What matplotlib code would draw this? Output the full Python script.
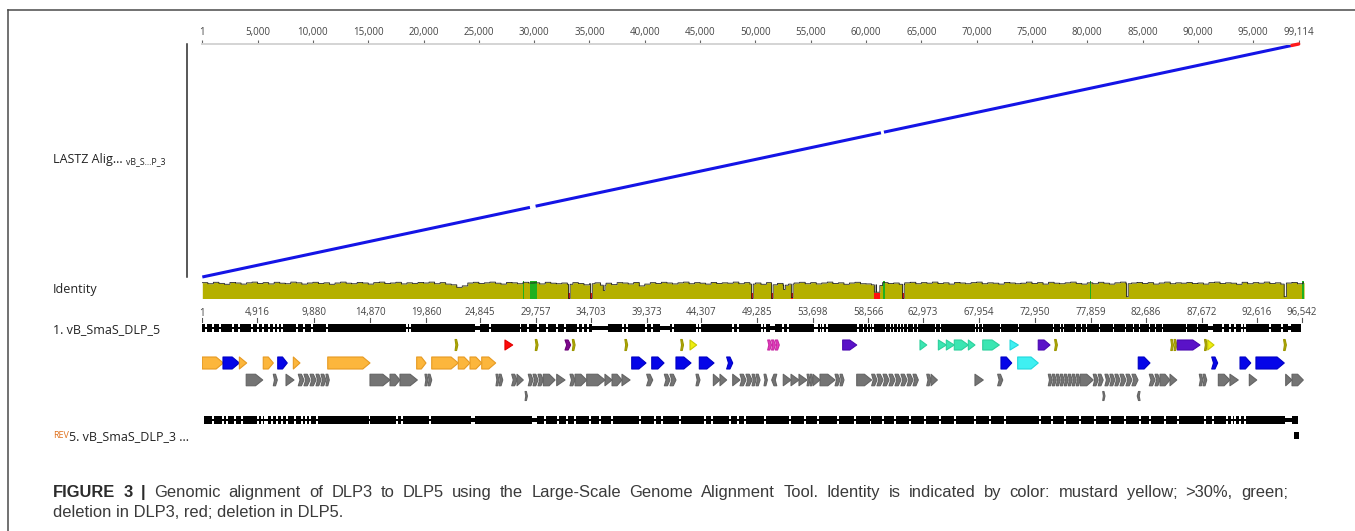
import numpy as np
import matplotlib
matplotlib.use("Agg")
import matplotlib.pyplot as plt
from matplotlib.patches import Polygon, Rectangle
from matplotlib.lines import Line2D

plt.rcParams['font.family'] = ['Open Sans', 'DejaVu Sans']

# ---------------- data ----------------
DLP5_LEN = 99114
ALN_LEN = 99600

top_ticks = [1, 5000, 10000, 15000, 20000, 25000, 30000, 35000, 40000, 45000,
             50000, 55000, 60000, 65000, 70000, 75000, 80000, 85000, 90000, 95000, 99114]

# alignment blocks: (dlp5 start, dlp5 end, dlp3 start, dlp3 end)
aln_blocks = [(1, 29620, 1, 29620), (30130, 61350, 30130, 61350), (61620, 98500, 61620, 98500)]
aln_rev_blocks = [(98500, 99114, 98500, 99114)]

# identity, 500 bp bins
identity_vals = [
    .88, .82, .90, .84, .79, .89, .86, .80, .87, .91, .83, .88, .81, .90, .85, .82, .91, .87, .80, .86,
    .90, .83, .87, .79, .86, .91, .85, .82, .89, .86, .80, .88, .91, .83, .86, .90, .81, .87, .84, .89,
    .86, .91, .82, .88, .80, .76, .62, .70, .86, .90, .83, .87, .91, .85, .80, .89, .87, .82, .90, .86,
    .87, .81, .90, .85, .82, .86, .79, .88, .83, .76, .82, .87, .74, .85, .77, .88, .86, .81, .89, .70,
    .80, .88, .83, .90, .86, .81, .87, .91, .82, .88, .85, .80, .89, .83, .87, .85, .91, .82, .88, .80,
    .86, .79, .88, .76, .84, .74, .80, .86, .90, .82, .88, .81, .86, .91, .83, .87, .79, .86, .90, .82,
    .81, .76, .72, .88, .83, .86, .79, .87, .90, .82, .88, .85, .91, .83, .87, .80, .89, .86, .82, .88,
    .91, .82, .87, .85, .80, .89, .86, .82, .85, .91, .83, .88, .80, .90, .85, .82, .87, .91, .84, .80,
    .87, .82, .90, .85, .80, .87, .91, .82, .86, .89, .83, .88, .80, .86, .91, .82, .87, .85, .89, .83,
    .86, .80, .88, .91, .83, .87, .85, .79, .90, .82, .88, .85, .91, .83, .87, .80, .86, .89, .82, .88,
]
# narrow dips: (centre, identity, red deletion mark)
identity_dips = [(33150, 0.0, True), (35140, 0.0, True), (36300, 0.45, False), (49700, 0.0, True),
                 (51500, 0.0, True), (52600, 0.5, False), (53300, 0.05, True), (60800, 0.35, True),
                 (61000, 0.35, True), (61150, 0.35, True), (63340, 0.0, True), (83600, 0.1, False),
                 (97880, 0.1, False)]
identity_green = [(28950, 29080), (29620, 30250), (61560, 61700), (80280, 80380), (99450, 99600)]

dlp5_tick_labels = ['1', '4,916', '9,880', '14,870', '19,860', '24,845', '29,757', '34,703', '39,373',
                    '44,307', '49,285', '53,698', '58,566', '62,973', '67,954', '72,950', '77,859',
                    '82,686', '87,672', '92,616', '96,542']
dlp5_tick_pos = [1, 4945, 10100, 15160, 20220, 25100, 30170, 35110, 40170, 45080, 50120, 55180,
                 60180, 65150, 70200, 75280, 80310, 85310, 90350, 95350, 99410]

dlp5_span = (1, 99360)
dlp5_gaps = [335, 970, 1600, 2780, 3320, 4490, 5040, 5490, 6030, 6480, 6840, 7200, 8560, 9190, 9910,
             11270, 18500, 18780, 26010, 28730, 29450, 30350, 31170, 32070, 32790, 33970, 34420, 34870,
             38030, 38390, 40110, 40650, 42550, 44720, 44990, 47980, 48430, 50600, 50870, 52500, 52950,
             55390, 55570, 55850, 56120, 56480, 59280, 59740, 60100, 60370, 60640, 61730, 62180, 62460,
             62820, 63090, 63360, 63730, 64270, 64630, 66260, 66710, 69870, 70150, 70510, 72140, 73770,
             76930, 77570, 77840, 78920, 79470, 79920, 81090, 82360, 83450, 84170, 84710, 85620, 86160,
             86790, 88960, 89960, 92270, 92900, 93350, 93980, 94260, 96520, 97610]
dlp5_narrow = [(24650, 25100), (35230, 36680), (41370, 42280), (51320, 51780), (90910, 91360),
               (98150, 98420)]

dlp3_span = (150, 99050)
dlp3_gaps = [970, 1870, 2230, 2960, 3590, 5040, 5400, 5670, 5850, 6300, 6750, 7200, 7650, 8380, 9010,
             9370, 9730, 10360, 15150, 17600, 18050, 20580, 30980, 32160, 32970, 33690, 35050, 35950,
             37040, 39570, 40920, 41560, 43190, 45450, 46080, 47710, 48430, 49060, 50870, 53130, 54490,
             55660, 57470, 59010, 60370, 61540, 62620, 63980, 65330, 66690, 68050, 69850, 71210, 72560,
             75730, 76810, 77990, 79340, 80700, 82050, 83410, 84770, 85670, 87030, 88200, 90650, 91370,
             92640, 93090, 93360, 93810, 94260]
dlp3_narrow = [(24300, 24650), (29800, 30260), (97880, 98510)]
dlp3_block = (98700, 99100)

# annotated features: (start, end, strand, colour)
row1_features = [
    (22850, 23100, 1, 'olive'), (27360, 28060, 1, 'red'), (30100, 30350, 1, 'olive'),
    (32790, 33300, 1, 'purple'), (33450, 33700, 1, 'olive'), (38200, 38450, 1, 'olive'),
    (43250, 43500, 1, 'olive'), (44090, 44690, 1, 'yellow'), (51110, 51460, 1, 'magenta'),
    (51460, 51810, 1, 'magenta'), (51810, 52160, 1, 'magenta'), (57890, 59160, 1, 'violet'),
    (64880, 65490, 1, 'teal'), (66540, 67260, 1, 'teal'), (67260, 67980, 1, 'teal'),
    (67980, 69250, 1, 'teal'), (69250, 69850, 1, 'teal'), (70550, 72050, 1, 'teal'),
    (73020, 73770, 1, 'cyan'), (75570, 76630, 1, 'violet'), (77050, 77300, 1, 'olive'),
    (87550, 87800, 1, 'olive'), (87850, 88100, 1, 'olive'), (88140, 90190, 1, 'violet'),
    (90600, 90850, 1, 'olive'), (90890, 91460, 1, 'yellow'), (97750, 98000, 1, 'olive'),
]
row2_features = [
    (1, 1900, 1, 'orange'), (1870, 3350, 1, 'blue'), (3350, 4010, 1, 'orange'),
    (5510, 6420, 1, 'orange'), (6820, 7680, 1, 'blue'), (8230, 8830, 1, 'orange'),
    (11340, 15160, 1, 'orange'), (19380, 20220, 1, 'orange'), (20740, 23140, 1, 'orange'),
    (23140, 24200, 1, 'orange'), (24200, 25260, 1, 'orange'), (25260, 26520, 1, 'orange'),
    (38820, 40110, 1, 'blue'), (40630, 41740, 1, 'blue'), (42820, 44180, 1, 'blue'),
    (44930, 46260, 1, 'blue'), (47400, 47950, 1, 'blue'), (72200, 73170, 1, 'blue'),
    (73710, 75570, 1, 'cyan'), (84610, 85670, 1, 'blue'), (91250, 91790, 1, 'blue'),
    (93810, 94780, 1, 'blue'), (95250, 97810, 1, 'blue'),
]
row3_features = [
    (3970, 5460, 1), (6420, 6780, 1), (7570, 8290, 1),
    (8680, 9190, 1), (9190, 9740, 1), (9740, 10280, 1), (10280, 10730, 1), (10730, 11180, 1),
    (11180, 11480, 1), (15160, 16970, 1), (16970, 17870, 1), (17870, 19440, 1),
    (20130, 20400, 1), (20400, 20740, 1), (26550, 26820, 1), (26820, 27160, 1),
    (27970, 28450, 1), (28450, 29020, 1), (29470, 29900, 1), (29900, 30350, 1), (30350, 30830, 1),
    (30830, 31890, 1), (32040, 32790, 1), (33240, 33700, 1), (33700, 34750, 1), (34750, 36400, 1),
    (36400, 37040, 1), (37040, 37940, 1), (37940, 38670, 1), (40170, 40720, 1),
    (41770, 42280, 1), (42280, 42820, 1), (44630, 44990, 1), (46200, 46800, 1), (46800, 47400, 1),
    (47950, 48610, 1), (48610, 49150, 1), (49150, 49700, 1), (49700, 50060, 1), (50060, 50420, 1),
    (50780, 51080, 1), (51470, 51930, -1), (52520, 53220, 1), (53220, 53940, 1), (53940, 54670, 1),
    (54670, 54940, 1), (54940, 55210, 1), (55210, 55840, 1), (55840, 57200, 1), (57200, 57650, 1),
    (57650, 58010, 1), (59160, 60510, 1), (60510, 60990, 1), (60990, 61540, 1), (61540, 62080, 1),
    (62080, 62620, 1), (62620, 63160, 1), (63160, 63710, 1), (63710, 64250, 1), (64250, 64730, 1),
    (65490, 65880, 1), (65880, 66450, 1), (69850, 70600, 1), (71900, 72360, 1),
    (76480, 76840, 1), (76840, 77200, 1), (77200, 77560, 1), (77560, 77920, 1), (77920, 78280, 1),
    (78280, 78640, 1), (78640, 79000, 1), (79000, 79370, 1), (79370, 80540, 1), (80540, 80990, 1),
    (80990, 81440, 1), (81600, 82050, 1), (82050, 82500, 1), (82500, 82960, 1), (82960, 83500, 1),
    (83500, 84040, 1), (84040, 84590, 1), (85610, 86130, 1), (86130, 86580, 1), (86580, 87480, 1),
    (87480, 88090, 1), (90130, 90460, 1), (90460, 90800, 1), (91850, 92900, 1), (92900, 93650, 1),
    (94650, 95320, 1), (97940, 98510, 1), (98510, 99530, 1),
]
row4_features = [(29180, 29390, 1), (81400, 81600, 1), (84520, 84770, -1)]

palette = {
    'olive': ('#b2ac00', '#9c9600'), 'red': ('#ff0a0a', '#e00000'), 'purple': ('#7d0a8c', '#6a0078'),
    'yellow': ('#eeee10', '#c8c800'), 'magenta': ('#e23cbc', '#c82aa4'), 'violet': ('#5a12c8', '#4a08b0'),
    'teal': ('#3be6b2', '#2cd09c'), 'cyan': ('#3ff0f2', '#22d8dc'), 'orange': ('#fcb63c', '#e69a22'),
    'blue': ('#0505e8', '#0000c4'), 'gray': ('#747474', '#646464'),
}

caption_line1 = [('FIGURE', 'bold'), ('3', 'bold'), ('|', 'bold')] + [
    (w, 'normal') for w in ('Genomic alignment of DLP3 to DLP5 using the Large-Scale Genome '
                            'Alignment Tool. Identity is indicated by color: mustard yellow; '
                            '>30%, green;').split()]
caption_line2 = 'deletion in DLP3, red; deletion in DLP5.'

# ---------------- layout ----------------
W, H = 1355, 531
BP_PER_PX = 90.4
X0 = 202.3


def px_box(x0, y0, x1, y1):
    return [x0 / W, 1 - y1 / H, (x1 - x0) / W, (y1 - y0) / H]


fig = plt.figure(figsize=(W / 100, H / 100), dpi=100)
fig.patch.set_facecolor('white')

# frame
fig.add_artist(Line2D([8 / W, 1], [1 - 10 / H, 1 - 10 / H], color='#4a4a4a', lw=1.1))
fig.add_artist(Line2D([8 / W, 8 / W], [0, 1 - 10 / H], color='#4a4a4a', lw=1.1))

# ---- dot plot ----
ax = fig.add_axes(px_box(X0, 44, X0 + DLP5_LEN / BP_PER_PX, 277))
ax.set_xlim(0, DLP5_LEN)
ax.set_ylim(0, DLP5_LEN)
for x0, x1, y0, y1 in aln_blocks:
    ax.plot([x0, x1], [y0, y1], color='#1414e6', lw=2.2, solid_capstyle='butt', clip_on=False)
for x0, x1, y0, y1 in aln_rev_blocks:
    ax.plot([x0, x1], [y0, y1], color='#ff1a1a', lw=2.4, solid_capstyle='round', clip_on=False,
            zorder=5)
for s in ['right', 'bottom']:
    ax.spines[s].set_visible(False)
ax.spines['top'].set_color('#d4d4d4')
ax.spines['top'].set_linewidth(1.4)
ax.spines['left'].set_position(('outward', 11))
ax.spines['left'].set_color('#2a2a2a')
ax.spines['left'].set_linewidth(1.1)
ax.xaxis.tick_top()
ax.set_xticks(top_ticks)
ax.set_xticklabels([f'{t:,}' for t in top_ticks], fontsize=7, color='#444444')
ax.tick_params(axis='x', length=3, width=0.8, color='#666666', pad=1.5)
ax.set_yticks([])
ax.patch.set_alpha(0)

# ---- identity ----
ax_id = fig.add_axes(px_box(X0, 280.5, X0 + ALN_LEN / BP_PER_PX, 298.5))
ax_id.set_xlim(0, ALN_LEN)
ax_id.set_ylim(0, 1)
step = 50
xs = np.arange(0, ALN_LEN + step, step)
prof = np.repeat(np.array(identity_vals), 500 // step)[:len(xs)]
for c, val, red in identity_dips:
    prof[(xs >= c - 80) & (xs <= c + 80)] = val
ax_id.fill_between(xs, prof, step='post', color='#b5b000', lw=0)
ax_id.step(xs, prof, where='post', color='#222222', lw=0.6)
for c, val, red in identity_dips:
    if red:
        ax_id.bar(c - 80, 0.3, 160, align='edge', color='#ff1010', lw=0)
for a, b in identity_green:
    ax_id.bar(a, 0.95, b - a, align='edge', color='#1fb01f', lw=0)
ax_id.axis('off')

# ---- sequence tracks ----
tk = fig.add_axes(px_box(X0, 300, X0 + ALN_LEN / BP_PER_PX, 445))
tk.set_xlim(0, ALN_LEN)
tk.set_ylim(445, 300)
tk.axis('off')

RULER_Y, DLP5_Y, ROW_Y, DLP3_Y = 313, 328, [345, 363, 380, 396], 420

for pos, lab in zip(dlp5_tick_pos, dlp5_tick_labels):
    tk.plot([pos, pos], [318, 321.5], color='#555555', lw=0.8)
    tk.text(pos, RULER_Y, lab, ha='center', va='center', fontsize=7, color='#444444')


def seq_bar(y, span, gaps, narrow, h=7.5, gap_w=110):
    start, end = span
    tk.add_patch(Rectangle((start, y - 1), end - start, 2, color='black', lw=0))
    cuts = sorted([(g - gap_w / 2, g + gap_w / 2) for g in gaps] + list(narrow))
    pos = start
    for a, b in cuts:
        if a > pos:
            tk.add_patch(Rectangle((pos, y - h / 2), a - pos, h, color='black', lw=0))
        pos = max(pos, b)
    if end > pos:
        tk.add_patch(Rectangle((pos, y - h / 2), end - pos, h, color='black', lw=0))
    for a, b in narrow:
        tk.add_patch(Rectangle((a, y - 2), b - a, 4, color='black', lw=0))


seq_bar(DLP5_Y, dlp5_span, dlp5_gaps, dlp5_narrow)
seq_bar(DLP3_Y, dlp3_span, dlp3_gaps, dlp3_narrow)
tk.add_patch(Rectangle((dlp3_block[0], 432), dlp3_block[1] - dlp3_block[0], 7, color='black', lw=0))


def feature(s, e, strand, y, h, colour):
    fc, ec = palette[colour]
    L = e - s
    top, bot = y - h / 2, y + h / 2
    if L < 560:
        pts = [(0, top), (0.55 * L, top), (L, y), (0.55 * L, bot), (0, bot), (0.3 * L, y)]
    elif L <= 800:
        pts = [(0, top), (L, y), (0, bot)]
    else:
        hd = min(650, 0.5 * L)
        pts = [(0, top), (L - hd, top), (L, y), (L - hd, bot), (0, bot)]
    if strand > 0:
        pts = [(s + dx, yy) for dx, yy in pts]
    else:
        pts = [(e - dx, yy) for dx, yy in pts]
    tk.add_patch(Polygon(pts, closed=True, fc=fc, ec=ec, lw=0.8, joinstyle='round'))


for s, e, st, c in row1_features:
    feature(s, e, st, ROW_Y[0], 11 if c == 'olive' else 10, c)
for s, e, st, c in row2_features:
    feature(s, e, st, ROW_Y[1], 12, c)
for s, e, st in row3_features:
    feature(s, e, st, ROW_Y[2], 11.5, 'gray')
for s, e, st in row4_features:
    feature(s, e, st, ROW_Y[3], 9, 'gray')

# ---- left labels ----
fig.text(53 / W, 1 - 160 / H, 'LASTZ Alig...', fontsize=9, color='#222222', va='center')
fig.text(126 / W, 1 - 162 / H, 'vB_S...P_3', fontsize=6.3, color='#222222', va='center')
fig.text(53 / W, 1 - 289 / H, 'Identity', fontsize=9, color='#222222', va='center')
fig.text(53 / W, 1 - 330 / H, '1. vB_SmaS_DLP_5', fontsize=9, color='#222222', va='center')
fig.text(53 / W, 1 - 435 / H, 'REV', fontsize=6.5, color='#e0701c', va='center')
fig.text(69 / W, 1 - 437 / H, '5. vB_SmaS_DLP_3 ...', fontsize=9, color='#222222', va='center')

# ---- caption (first line justified to the column width) ----
cap_font = ['Liberation Sans', 'DejaVu Sans']
renderer = fig.canvas.get_renderer()
CAP_SIZE = 11.9
x_left, x_right, base1 = 53, 1288, 497
word_txt = []
for word, weight in caption_line1:
    t = fig.text(0, 1 - base1 / H, word, fontsize=CAP_SIZE, fontweight=weight,
                 color='#2b2b2b' if weight == 'bold' else '#3a3a3a', family=cap_font, va='baseline')
    word_txt.append((t, t.get_window_extent(renderer).width))
gap = (x_right - x_left - sum(w for _, w in word_txt)) / (len(word_txt) - 1)
x = x_left
for t, w in word_txt:
    t.set_x(x / W)
    x += w + gap
fig.text(x_left / W, 1 - 517 / H, caption_line2, fontsize=CAP_SIZE, color='#3a3a3a',
         family=cap_font, va='baseline')

fig.savefig('out.png', dpi=100)
